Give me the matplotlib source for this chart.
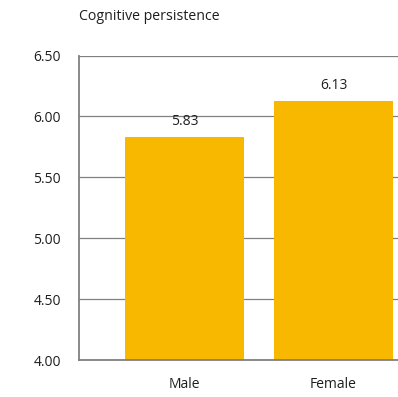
import matplotlib
matplotlib.use("Agg")
import matplotlib.pyplot as plt

categories = ["Male", "Female"]
values = [5.83, 6.13]
yticks = [4.00, 4.50, 5.00, 5.50, 6.00, 6.50]
title = "Cognitive persistence"

plt.rcParams["font.family"] = ["Open Sans", "DejaVu Sans"]

W, H = 398, 397
fig = plt.figure(figsize=(W / 100, H / 100), dpi=100)
# axes in pixel terms: left 79, right runs off the canvas, y from 55.5 to 360
left, right, top, bottom = 79, 398, 55.5, 360
ax = fig.add_axes([left / W, 1 - bottom / H, (right - left) / W, (bottom - top) / H])

x = list(range(len(categories)))
bar_color = "#F9B800"
ax.bar(x, values, width=0.805, color=bar_color, zorder=2)

ax.set_xlim(-0.708, 1.433)
ax.set_ylim(4.0, 6.5)
ax.set_yticks(yticks)
ax.set_yticklabels([f"{v:.2f}" for v in yticks])
ax.set_xticks(x)
ax.set_xticklabels(categories)

ax.grid(axis="y", color="#808080", linewidth=0.9, zorder=0)
ax.set_axisbelow(True)
for s in ["top", "right"]:
    ax.spines[s].set_visible(False)
for s in ["left", "bottom"]:
    ax.spines[s].set_color("#808080")
    ax.spines[s].set_linewidth(1.3)

ax.tick_params(axis="y", length=0, pad=13, labelsize=10, labelcolor="#1e1e1e")
ax.tick_params(axis="x", length=0, pad=12, labelsize=10, labelcolor="#1e1e1e")

for xi, v in zip(x, values):
    ax.annotate(f"{v:.2f}", (xi, v), xytext=(0, 11), textcoords="offset points",
                ha="center", va="center", fontsize=10, color="#1e1e1e")

fig.text(left / W, 1 - 16 / H, title, ha="left", va="center", fontsize=10.2, color="#1e1e1e")

fig.savefig("out.png", dpi=100)
